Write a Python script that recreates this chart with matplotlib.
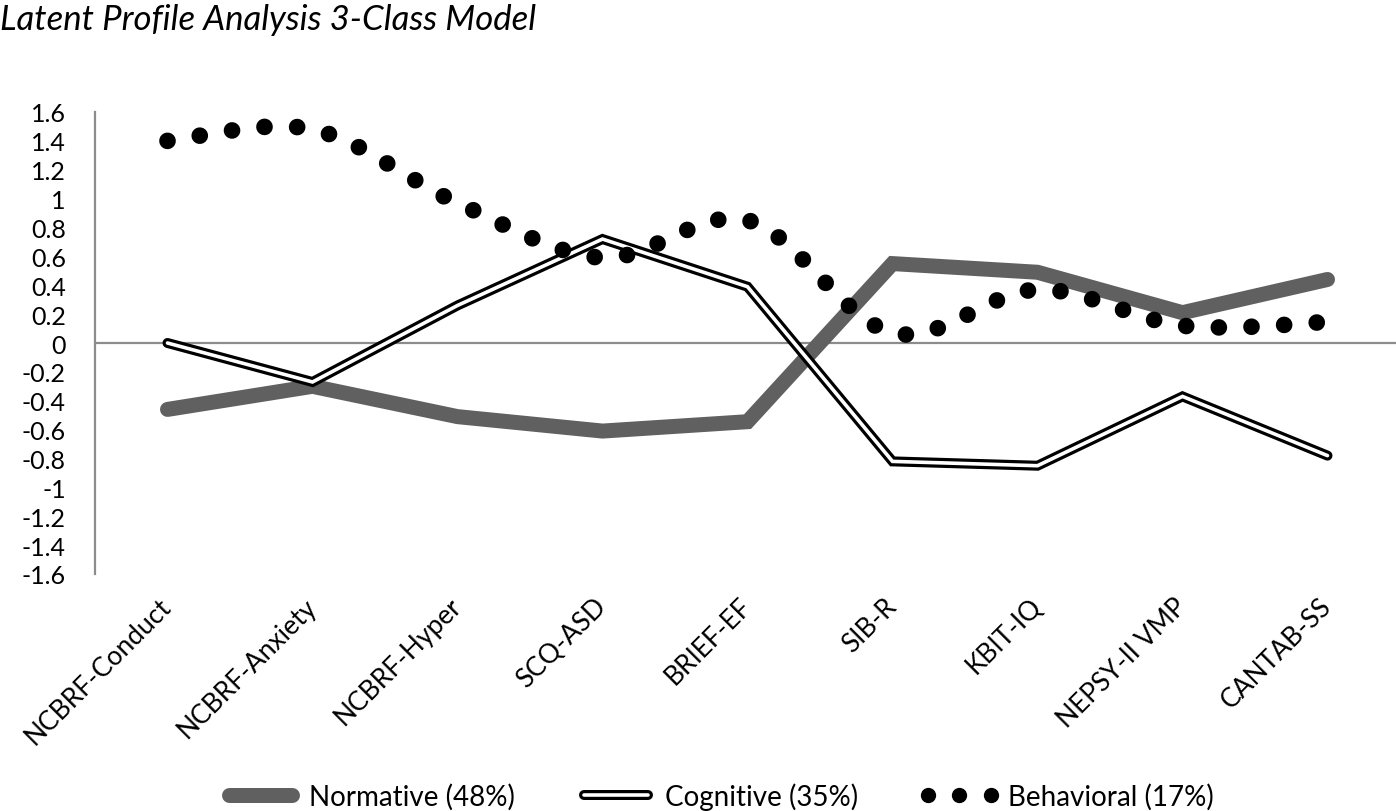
import numpy as np
import matplotlib.pyplot as plt
from matplotlib.path import Path
from matplotlib.patches import PathPatch
from matplotlib.lines import Line2D
from matplotlib.legend_handler import HandlerTuple

plt.rcParams['font.family'] = ['Lato', 'DejaVu Sans']

categories = ['NCBRF-Conduct', 'NCBRF-Anxiety', 'NCBRF-Hyper', 'SCQ-ASD', 'BRIEF-EF',
              'SIB-R', 'KBIT-IQ', 'NEPSY-II VMP', 'CANTAB-SS']
normative = [-0.46, -0.30, -0.51, -0.61, -0.545, 0.55, 0.49, 0.21, 0.44]
cognitive = [0.0, -0.27, 0.26, 0.72, 0.39, -0.82, -0.85, -0.37, -0.78]
behavioral = [1.40, 1.48, 0.97, 0.59, 0.85, 0.07, 0.37, 0.12, 0.145]
yticks = np.round(np.arange(-1.6, 1.61, 0.2), 1)

gray = '#606060'
axis_gray = '#8c8c8c'

fig = plt.figure(figsize=(13.96, 8.12), dpi=100)
ax = fig.add_axes([95 / 1396, 1 - 575 / 812, 1305 / 1396, 462 / 812])

x = np.arange(len(categories))

# normative: thick gray line
ax.plot(x, normative, color=gray, lw=10.8, solid_capstyle='round', solid_joinstyle='miter', zorder=3)

# cognitive: double line (black outline with white core)
ax.plot(x, cognitive, color='black', lw=7.2, solid_capstyle='round', solid_joinstyle='miter', zorder=4)
ax.plot(x, cognitive, color='white', lw=2.6, solid_capstyle='round', solid_joinstyle='miter', zorder=5)

# behavioral: smoothed curve drawn as bezier path, round dots
pts = np.column_stack([x, behavioral]).astype(float)
ext = np.vstack([pts[0], pts, pts[-1]])
verts = [tuple(pts[0])]
codes = [Path.MOVETO]
for i in range(len(pts) - 1):
    p0, p1, p2, p3 = ext[i], ext[i + 1], ext[i + 2], ext[i + 3]
    c1 = p1 + (p2 - p0) / 6.0
    c2 = p2 - (p3 - p1) / 6.0
    verts += [tuple(c1), tuple(c2), tuple(p2)]
    codes += [Path.CURVE4] * 3
patch = PathPatch(Path(verts, codes), fill=False, edgecolor='black', lw=12,
                  linestyle=(0, (0.001, 1.96)), capstyle='round', zorder=6)
ax.add_patch(patch)

ax.axhline(0, color=axis_gray, lw=1.6, zorder=1)
ax.set_xlim(-0.5, len(categories) - 0.5)
ax.set_ylim(-1.6, 1.6)
ax.set_yticks(yticks)
ax.set_yticklabels(['%g' % v if v != 0 else '0' for v in yticks])
ax.set_xticks(x)
ax.set_xticklabels(categories, rotation=45, ha='right', va='center', rotation_mode='anchor')
ax.tick_params(axis='y', length=0, pad=21, labelsize=18)
ax.tick_params(axis='x', length=0, pad=20, labelsize=19)
for s in ['top', 'right', 'bottom']:
    ax.spines[s].set_visible(False)
ax.spines['left'].set_color(axis_gray)
ax.spines['left'].set_linewidth(1.6)

fig.text(0.0, 1 - 20 / 812, 'Latent Profile Analysis 3-Class Model', fontsize=25,
         style='italic', ha='left', va='center')

h1 = Line2D([], [], color=gray, lw=10.8, solid_capstyle='round')
h2a = Line2D([], [], color='black', lw=7.2, solid_capstyle='round')
h2b = Line2D([], [], color='white', lw=2.6, solid_capstyle='round')
h3 = Line2D([], [], color='black', ls='none', marker='o', ms=10)
fig.legend([h1, (h2a, h2b), h3], ['Normative (48%)', 'Cognitive (35%)', 'Behavioral (17%)'],
           handler_map={tuple: HandlerTuple(ndivide=1)}, numpoints=3,
           loc='center', bbox_to_anchor=(717 / 1396, 1 - 797 / 812), ncol=3, frameon=False,
           fontsize=20, handlelength=2.9, handletextpad=0.3, columnspacing=2.2)

fig.savefig('out.png', dpi=100)
